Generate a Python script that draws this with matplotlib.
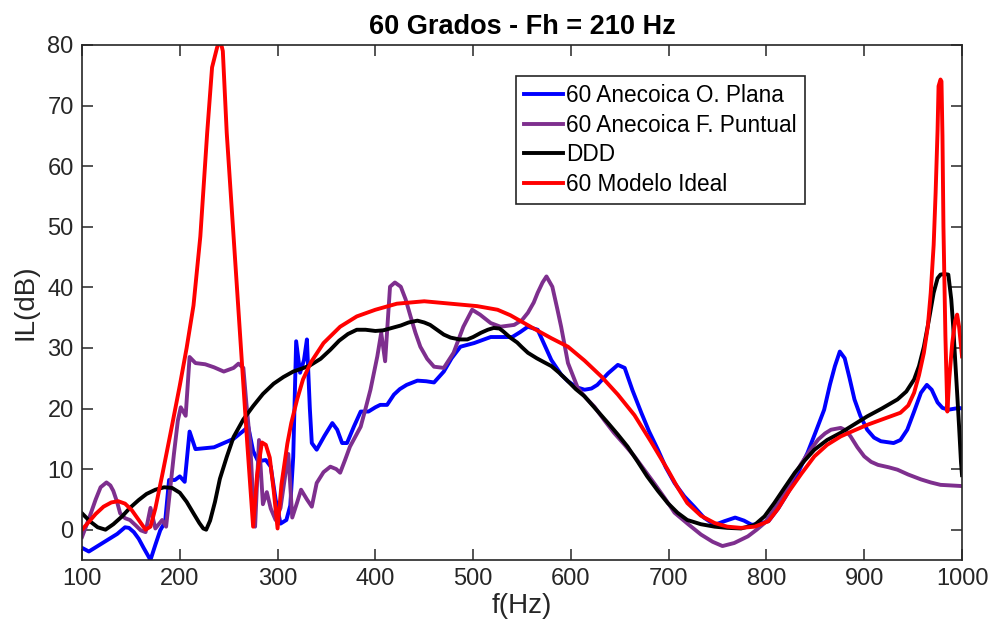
import matplotlib
matplotlib.use("Agg")
import matplotlib.pyplot as plt

plt.rcParams['font.family'] = ['Liberation Sans', 'DejaVu Sans']

# 60 Anecoica O. Plana
f_plana = [100, 107, 113, 119, 128, 136, 144, 148, 153, 158, 163, 170, 175, 180, 185,
           189, 195, 200, 205, 210, 216, 235, 255, 265, 270, 275, 280, 288, 293, 298,
           303, 309, 313, 316, 319, 323, 327, 330, 333, 335, 340, 348, 356, 361, 366,
           371, 378, 385, 393, 400, 405, 412, 419, 425, 432, 443, 452, 460, 470, 478,
           487, 501, 518, 540, 548, 556, 566, 573, 580, 590, 597, 606, 614, 621, 627,
           638, 648, 655, 663, 672, 680, 689, 697, 706, 716, 726, 736, 747, 757, 768,
           777, 785, 795, 802, 812, 822, 832, 842, 850, 859, 865, 870, 875, 880, 885,
           890, 896, 903, 910, 917, 930, 937, 944, 951, 958, 964, 969, 975, 980, 986,
           997, 1000]
il_plana = [-3.0, -3.6, -3.0, -2.4, -1.5, -0.7, 0.4, 0.3, -0.4, -1.5, -3.0, -5.0, -2.5, -0.1, 1.3,
            8.2, 8.2, 8.8, 7.9, 16.2, 13.3, 13.6, 15.0, 16.3, 17.0, 13.0, 11.3, 11.5, 10.4, 5.0,
            1.0, 1.6, 4.0, 12.0, 31.1, 25.9, 28.0, 31.4, 20.0, 14.3, 13.2, 15.5, 17.6, 16.5, 14.3,
            14.3, 17.0, 19.5, 19.5, 20.2, 20.6, 20.6, 22.3, 23.2, 23.9, 24.6, 24.5, 24.3, 26.1, 28.3,
            30.2, 30.8, 31.8, 31.8, 32.6, 33.5, 33.0, 30.5, 28.0, 25.6, 24.5, 23.5, 23.1, 23.3, 23.9,
            25.8, 27.2, 26.7, 23.0, 19.3, 16.2, 13.2, 10.3, 7.7, 5.5, 3.8, 2.0, 0.8, 1.4, 2.0,
            1.5, 0.8, 1.1, 1.4, 3.5, 6.1, 9.3, 12.7, 16.0, 19.8, 24.0, 27.0, 29.4, 28.3, 25.0,
            21.5, 18.8, 16.5, 15.2, 14.6, 14.3, 14.8, 16.5, 19.5, 22.6, 23.9, 23.1, 21.0, 20.1, 19.8,
            20.1, 20.0]

# 60 Anecoica F. Puntual
f_puntual = [100, 104, 109, 114, 119, 125, 129, 132, 136, 139, 144, 149, 155, 160, 165,
             170, 175, 182, 186, 190, 194, 198, 201, 206, 210, 216, 226, 235, 245, 255,
             260, 265, 268, 272, 275, 277, 281, 285, 289, 293, 298, 303, 307, 311, 315,
             320, 324, 330, 335, 340, 347, 354, 360, 364, 369, 374, 380, 385, 390, 395,
             402, 406, 410, 415, 420, 426, 431, 436, 441, 446, 453, 460, 470, 480, 490,
             499, 507, 518, 528, 542, 550, 556, 562, 566, 571, 575, 581, 586, 590, 597,
             607, 615, 624, 634, 644, 655, 665, 675, 685, 696, 706, 720, 733, 745, 755,
             767, 781, 790, 798, 806, 815, 825, 836, 845, 853, 860, 866, 876, 881, 886,
             893, 900, 907, 914, 925, 934, 945, 958, 968, 978, 990, 1000]
il_puntual = [-1.2, 0.5, 2.7, 5.0, 7.0, 7.8, 7.3, 6.4, 4.5, 2.7, 1.9, 1.6, 0.7, -0.1, -0.4,
              3.6, 0.2, 1.6, 0.5, 6.5, 12.5, 18.0, 20.2, 18.8, 28.5, 27.5, 27.3, 26.8, 26.1, 26.7,
              27.4, 26.7, 21.0, 14.2, 5.0, 0.5, 14.8, 4.2, 6.2, 3.5, 1.6, 3.6, 8.0, 12.5, 2.0,
              4.5, 6.6, 5.0, 3.8, 7.7, 9.5, 10.4, 10.0, 9.4, 11.5, 13.7, 15.5, 17.0, 20.0, 23.1,
              28.6, 32.5, 27.8, 40.1, 40.8, 40.1, 38.0, 35.2, 32.5, 30.2, 28.2, 26.9, 26.7, 29.2, 33.5,
              36.3, 35.5, 34.1, 33.5, 33.8, 34.6, 35.8, 37.5, 39.1, 40.8, 41.8, 40.1, 36.5, 33.5, 27.5,
              23.4, 21.8, 20.3, 18.1, 16.0, 14.0, 12.1, 9.9, 7.7, 5.2, 2.8, 0.9, -0.8, -2.0, -2.7,
              -2.2, -1.1, 0.0, 1.1, 2.9, 5.0, 8.0, 11.0, 13.2, 14.9, 15.9, 16.5, 16.8, 16.4, 15.4,
              13.6, 12.1, 11.2, 10.7, 10.3, 9.9, 9.1, 8.3, 7.8, 7.4, 7.3, 7.2]

# DDD
f_ddd = [100, 108, 116, 124, 132, 141, 149, 158, 166, 175, 184, 192, 200, 207, 214,
         220, 224, 227, 231, 236, 241, 248, 255, 265, 275, 285, 296, 306, 316, 325,
         333, 344, 354, 363, 372, 381, 390, 400, 408, 417, 426, 434, 443, 450, 456,
         463, 470, 477, 486, 494, 500, 508, 515, 521, 527, 531, 538, 545, 550, 556,
         565, 573, 580, 588, 597, 605, 614, 626, 638, 648, 658, 668, 678, 689, 699,
         709, 719, 733, 747, 760, 774, 788, 798, 808, 818, 829, 839, 849, 862, 876,
         890, 903, 918, 934, 943, 951, 956, 961, 966, 971, 975, 978, 982, 986, 989,
         991, 993, 995, 997, 999, 1000]
il_ddd = [2.7, 1.4, 0.4, 0.0, 0.9, 2.2, 3.6, 4.9, 5.9, 6.6, 7.0, 6.9, 6.1, 4.6, 2.7,
          1.1, 0.2, 0.0, 1.5, 4.6, 8.4, 12.0, 15.3, 18.2, 20.4, 22.4, 24.1, 25.2, 26.1, 26.6,
          27.1, 28.2, 29.7, 31.2, 32.3, 33.0, 33.0, 32.8, 32.9, 33.3, 33.7, 34.2, 34.5, 34.2, 33.8,
          33.0, 32.2, 31.7, 31.4, 31.4, 31.8, 32.5, 33.0, 33.3, 33.2, 32.7, 31.7, 30.9, 30.1, 29.2,
          28.3, 27.6, 27.0, 25.9, 24.5, 23.2, 22.0, 19.8, 17.6, 15.7, 13.7, 11.3, 8.8, 6.4, 4.4,
          2.8, 1.6, 0.9, 0.5, 0.3, 0.2, 0.8, 2.2, 4.4, 6.8, 9.4, 11.4, 13.2, 14.8, 16.0,
          17.4, 18.7, 20.0, 21.5, 22.8, 24.8, 27.0, 30.2, 34.5, 39.1, 41.5, 42.1, 42.2, 42.1, 38.0,
          33.5, 28.0, 22.6, 17.0, 11.0, 9.0]

# 60 Modelo Ideal
f_ideal = [100, 107, 114, 122, 130, 137, 144, 151, 158, 165, 170, 175, 182, 190, 200,
           207, 214, 221, 228, 233, 238, 241, 244, 248, 255, 262, 269, 275, 279, 284,
           288, 292, 296, 300, 304, 310, 314, 320, 326, 334, 347, 364, 381, 400, 422,
           450, 477, 504, 525, 538, 550, 562, 580, 597, 614, 631, 648, 665, 682, 699,
           709, 719, 733, 747, 760, 774, 788, 802, 812, 822, 836, 849, 862, 876, 890,
           903, 920, 937, 945, 951, 956, 961, 965, 968, 971, 973, 975, 976, 978, 979,
           980, 981, 983, 985, 987, 990, 993, 995, 997, 1000]
il_ideal = [0.0, 1.3, 2.6, 3.8, 4.5, 4.7, 4.3, 3.2, 1.6, 0.0, 0.5, 3.5, 9.0, 15.5, 23.8,
            30.0, 37.0, 48.4, 65.5, 76.3, 79.5, 81.0, 79.0, 65.5, 48.4, 31.3, 14.2, 0.5, 9.0, 14.4,
            14.0, 11.9, 6.5, 0.2, 7.5, 14.2, 17.6, 21.5, 24.8, 27.6, 30.8, 33.5, 35.2, 36.3, 37.3,
            37.7, 37.3, 36.9, 36.3, 35.4, 34.3, 33.2, 31.6, 30.2, 27.9, 25.3, 22.3, 18.9, 14.5, 9.9,
            7.0, 4.4, 2.3, 1.1, 0.5, 0.3, 0.5, 1.4, 3.5, 6.1, 9.3, 12.1, 14.0, 15.4, 16.4,
            17.3, 18.3, 19.3, 20.5, 22.6, 25.5, 29.2, 33.5, 39.1, 47.0, 55.6, 66.0, 73.2, 74.3, 74.0,
            65.0, 50.0, 32.0, 19.5, 25.0, 30.8, 34.5, 35.5, 33.5, 28.6]

series = [
    (f_plana, il_plana, '#0000ff', '60 Anecoica O. Plana'),
    (f_puntual, il_puntual, '#7e2f8e', '60 Anecoica F. Puntual'),
    (f_ddd, il_ddd, '#000000', 'DDD'),
    (f_ideal, il_ideal, '#ff0000', '60 Modelo Ideal'),
]

fig = plt.figure(figsize=(9.93, 6.37), dpi=100)
ax = fig.add_axes([0.0826, 0.1209, 0.8862, 0.8085])

for f, il, c, name in series:
    ax.plot(f, il, color=c, lw=2.8, label=name, solid_joinstyle='round')

ax.set_xlim(100, 1000)
ax.set_ylim(-5, 80)
ax.set_xticks(range(100, 1001, 100))
ax.set_yticks(range(0, 81, 10))

axcol = '#262626'
for s in ax.spines.values():
    s.set_color(axcol)
    s.set_linewidth(1.2)
ax.tick_params(direction='in', length=8, width=1.1, colors=axcol,
               top=True, right=True, labelsize=17, pad=6)
for lab in ax.get_xticklabels() + ax.get_yticklabels():
    lab.set_color(axcol)

ax.set_xlabel('f(Hz)', fontsize=20, color=axcol, labelpad=2)
ax.set_ylabel('IL(dB)', fontsize=20, color=axcol, labelpad=6)
ax.set_title('60 Grados - Fh = 210 Hz', fontsize=19.5, fontweight='bold', pad=8)

leg = ax.legend(loc='upper left', bbox_to_anchor=(0.493, 0.940), fontsize=16.3,
                frameon=True, fancybox=False, edgecolor='#262626', framealpha=1,
                handlelength=1.75, handletextpad=0.12, labelspacing=0.3,
                borderpad=0.35, borderaxespad=0)
leg.get_frame().set_linewidth(1.2)

fig.savefig('out.png', dpi=100)
